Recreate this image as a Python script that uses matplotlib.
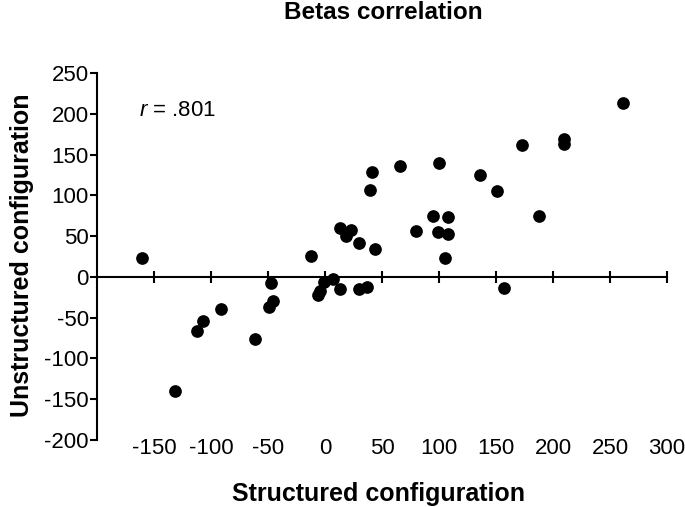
import matplotlib
matplotlib.use("Agg")
import matplotlib.pyplot as plt

plt.rcParams['font.family'] = ['Liberation Sans', 'DejaVu Sans']
plt.rcParams['mathtext.fontset'] = 'custom'
plt.rcParams['mathtext.it'] = 'Liberation Sans:italic'
plt.rcParams['mathtext.rm'] = 'Liberation Sans'
plt.rcParams['axes.unicode_minus'] = False

# betas
structured = [-160.5, -131.5, -112.2, -107.2, -91.4, -61.5, -47.8, -45.2, -48.7,
              -12.0, -6.5, -4.0, -0.6, 6.7, 13.2, 12.9, 18.5, 23.1, 29.9, 29.5,
              36.6, 44.2, 41.3, 39.8, 66.2, 80.2, 94.9, 99.3, 108.3, 108.3,
              105.7, 100.2, 135.9, 150.8, 157.0, 173.1, 187.7, 210.0, 210.0, 261.0]
unstructured = [22.9, -139.7, -65.8, -54.3, -38.8, -75.6, -7.4, -29.4, -37.2,
                26.1, -22.0, -17.0, -6.1, -2.0, -15.1, 60.0, 50.7, 57.2, 42.1, -14.3,
                -11.8, 34.7, 129.1, 106.6, 136.4, 56.0, 75.1, 55.1, 73.9, 52.3,
                23.7, 139.7, 125.4, 105.0, -13.9, 162.1, 74.4, 168.7, 162.6, 212.8]

x_ticks = [-150, -100, -50, 0, 50, 100, 150, 200, 250, 300]
y_ticks = [-200, -150, -100, -50, 0, 50, 100, 150, 200, 250]
r_label = r'$\it{r}$ = .801'

fig = plt.figure(figsize=(6.85, 5.07), dpi=100)
ax = fig.add_axes([97 / 685, 1 - 440 / 507, 570 / 685, 367 / 507])

ax.scatter(structured, unstructured, s=66, color='black', zorder=3, clip_on=False)

ax.set_xlim(-200, 300)
ax.set_ylim(-200, 250)
ax.set_xticks(x_ticks)
ax.set_yticks(y_ticks)

# x axis line sits at y = 0, its labels stay at the bottom
ax.spines['top'].set_position(('data', 0))
ax.spines['bottom'].set_visible(False)
ax.spines['right'].set_visible(False)
ax.spines['top'].set_linewidth(1.5)
ax.spines['left'].set_linewidth(1.5)
ax.tick_params(axis='x', top=True, bottom=False, labeltop=False, labelbottom=True,
               direction='inout', length=8, width=1.5, pad=-5.5, labelsize=16)
ax.tick_params(axis='y', direction='out', length=5, width=1.5, pad=1, labelsize=16)

ax.text(-163, 204, r_label, fontsize=16, va='center', ha='left')

ax.text(0.502, 1.166, 'Betas correlation', transform=ax.transAxes, fontsize=17.5,
        fontweight='bold', ha='center', va='center')
ax.set_xlabel('Structured configuration', fontsize=18, fontweight='bold')
ax.set_ylabel('Unstructured configuration', fontsize=18, fontweight='bold')
ax.xaxis.set_label_coords(0.493, -0.147)
ax.yaxis.set_label_coords(-0.1316, 0.504)
for lbl in (ax.xaxis.label, ax.yaxis.label):
    lbl.set_va('center')

fig.savefig('out.png', dpi=100)
